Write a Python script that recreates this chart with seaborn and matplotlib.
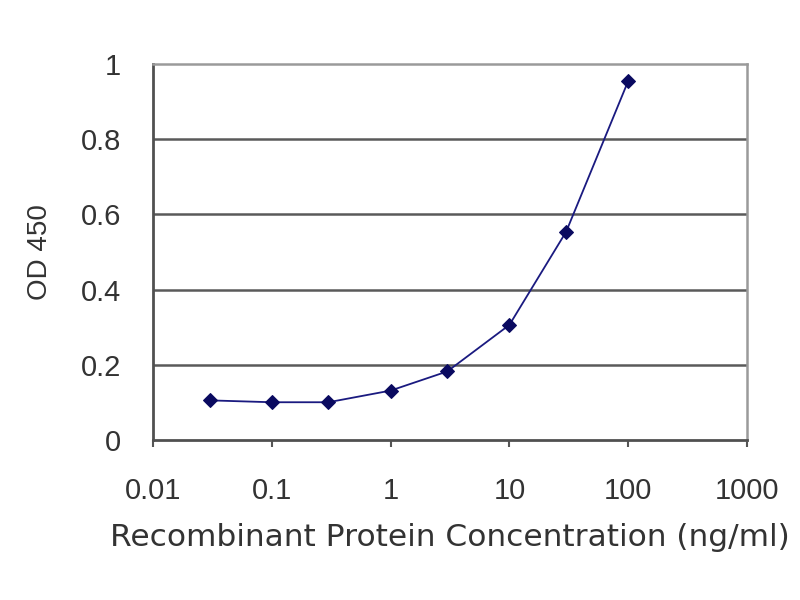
import numpy as np
import pandas as pd
import matplotlib
matplotlib.use("Agg")
import matplotlib.pyplot as plt
import seaborn as sns

# ELISA standard curve values
concentracion = [0.03, 0.1, 0.3, 1, 3, 10, 30, 100]
od450 = [0.105, 0.100, 0.100, 0.131, 0.182, 0.306, 0.554, 0.956]
x_ticks = [0.01, 0.1, 1, 10, 100, 1000]
x_labels = ["0.01", "0.1", "1", "10", "100", "1000"]
y_ticks = [0, 0.2, 0.4, 0.6, 0.8, 1]
y_labels = ["0", "0.2", "0.4", "0.6", "0.8", "1"]

data = pd.DataFrame({"conc": concentracion, "od": od450})

sns.set_theme(style="white")
plt.rcParams["font.family"] = ["Liberation Sans", "DejaVu Sans"]

fig = plt.figure(figsize=(8, 6), dpi=100)
ax = fig.add_axes([0.191, 0.267, 0.743, 0.626])

for v in y_ticks[1:-1]:
    ax.axhline(v, color="#5a5a5a", lw=1.8, zorder=1)

sns.lineplot(data=data, x="conc", y="od", ax=ax, color="#1a1a80", lw=1.3,
             marker="D", markersize=7, markerfacecolor="#0a0a60",
             markeredgecolor="#0a0a60", zorder=3)

ax.set_xscale("log")
ax.set_xlim(0.01, 1000)
ax.set_ylim(0, 1)
ax.set_xticks(x_ticks)
ax.set_xticklabels(x_labels)
ax.xaxis.set_minor_locator(matplotlib.ticker.NullLocator())
ax.set_yticks(y_ticks)
ax.set_yticklabels(y_labels)

txt = "#333333"
ax.tick_params(axis="x", direction="out", length=5, width=1.5, color="#555555",
               pad=22, labelsize=21, labelcolor=txt, bottom=True)
ax.tick_params(axis="y", length=0, pad=23, labelsize=21, labelcolor=txt)

for side in ["left", "bottom"]:
    ax.spines[side].set_color("#505050")
    ax.spines[side].set_linewidth(2)
for side in ["top", "right"]:
    ax.spines[side].set_color("#9a9a9a")
    ax.spines[side].set_linewidth(1.8)

ax.set_xlabel("Recombinant Protein Concentration (ng/ml)", fontsize=22.5,
              color=txt, labelpad=13, family=["DejaVu Sans"])
ax.set_ylabel("OD 450", fontsize=20, color=txt, labelpad=20)

plt.savefig("out.png", dpi=100)
plt.close()
